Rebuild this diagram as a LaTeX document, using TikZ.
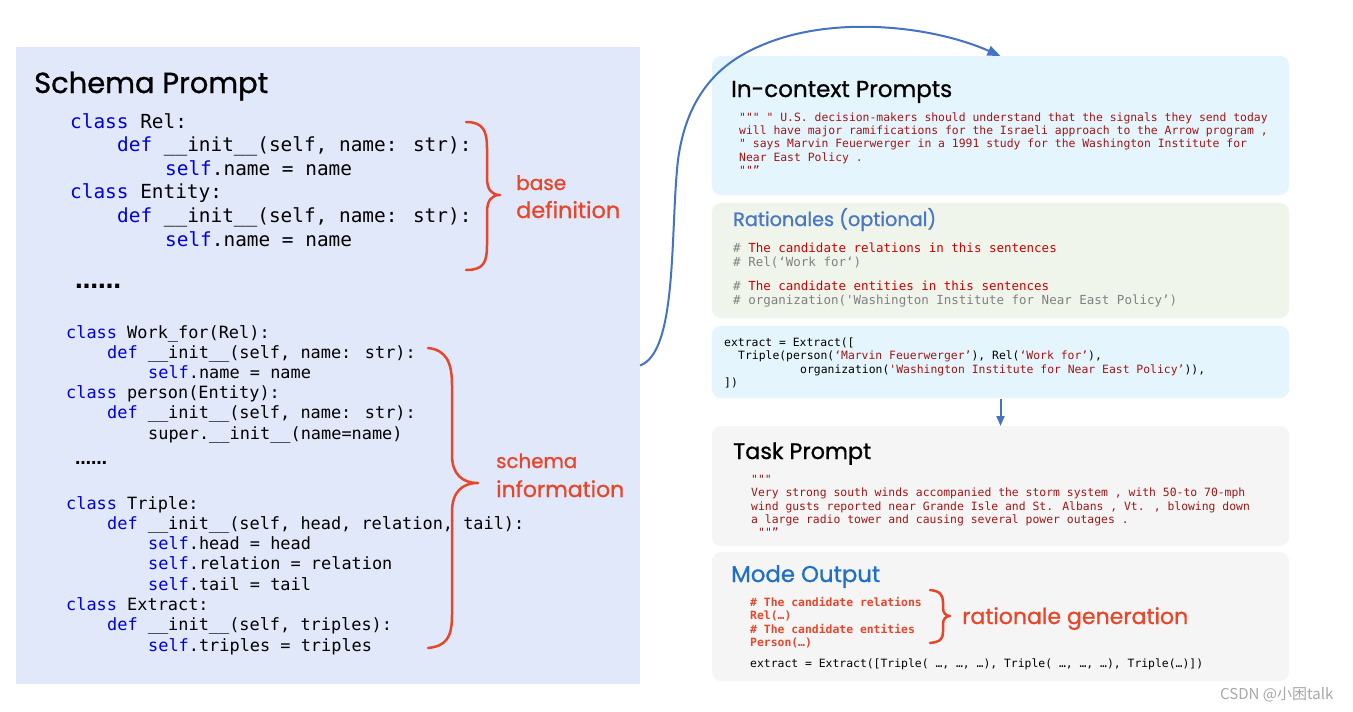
\documentclass[tikz,border=0pt]{standalone}
\usepackage{fontspec}
\usetikzlibrary{arrows.meta}
\newfontfamily\codefont[Ligatures=TeXOff]{DejaVu Sans Mono}
\newfontfamily\titlefont[FakeBold=0.9]{Poppins}
\newfontfamily\cjkfont{Noto Sans CJK SC}
\newfontfamily\dotfont{DejaVu Sans}
\definecolor{kwblue}{HTML}{0000DD}
\definecolor{labred}{HTML}{E8462A}
\definecolor{strred}{HTML}{A31515}
\definecolor{cmtred}{HTML}{CC0000}
\definecolor{cmtgray}{HTML}{808080}
\definecolor{arrblue}{HTML}{4472C4}
\definecolor{panelL}{HTML}{E0E8FA}
\definecolor{cyanbox}{HTML}{E4F5FD}
\definecolor{greenbox}{HTML}{F0F5EC}
\definecolor{graybox}{HTML}{F5F5F5}
\definecolor{ratblue}{HTML}{4A76C6}
\definecolor{modeblue}{HTML}{1E6FC5}
\definecolor{wmgray}{HTML}{A8A8A8}
\newcommand\kw[1]{\textcolor{kwblue}{#1}}
\newcommand\strq[1]{\textcolor{strred}{#1}}
\tikzset{
  panelbox/.style={inner sep=0, outer sep=0, anchor=north west, draw=none},
  rbox/.style={panelbox, rounded corners=9pt, minimum width=577pt},
  codeL/.style={inner sep=0, anchor=base west, font=\codefont\fontsize{19.4}{19.4}\selectfont},
  codeM/.style={inner sep=0, anchor=base west, font=\codefont\fontsize{16.9}{16.9}\selectfont},
  codeS/.style={inner sep=0, anchor=base west, font=\codefont\fontsize{11.4}{11.4}\selectfont},
  codeR/.style={inner sep=0, anchor=base west, font=\codefont\fontsize{12.5}{12.5}\selectfont},
  titletext/.style={inner sep=0, anchor=base west, font=\titlefont},
  bracestyle/.style={draw=labred, line width=2.5pt, line cap=round, line join=round},
  flow/.style={draw=arrblue, line width=2pt},
}
\begin{document}
\begin{tikzpicture}[x=1pt, y=-1pt]
\fill[white] (0,0) rectangle (1353,712);
\useasboundingbox (0,0) rectangle (1353,712);

% panels
\node[panelbox, fill=panelL, minimum width=624pt, minimum height=637pt] (schema) at (16,47) {};
\node[rbox, fill=cyanbox, minimum height=139pt] (incontext) at (712,56) {};
\node[rbox, fill=greenbox, minimum height=115pt] (rationale) at (712,203) {};
\node[rbox, fill=cyanbox, minimum height=72pt] (extractbox) at (712,326) {};
\node[rbox, fill=graybox, minimum height=120pt] (taskbox) at (712,426) {};
\node[rbox, fill=graybox, minimum height=129pt] (modebox) at (712,552) {};

% titles
\node[titletext] (tSchema) at (34,93) {\resizebox{234pt}{!}{Schema Prompt}};
\node[titletext] (tIn) at (731,97) {\resizebox{221pt}{!}{In-context Prompts}};
\node[titletext, text=ratblue] (tRat) at (733,226) {\resizebox{203pt}{!}{Rationales (optional)}};
\node[titletext] (tTask) at (733,459) {\resizebox{138pt}{!}{Task Prompt}};
\node[titletext, text=modeblue] (tMode) at (731,582) {\resizebox{149pt}{!}{Mode Output}};
\node[titletext, text=labred] (lBase) at (516,190) {\resizebox{50pt}{!}{base}};
\node[titletext, text=labred] (lDef) at (516,218) {\resizebox{104pt}{!}{definition}};
\node[titletext, text=labred] (lSch) at (496,468) {\resizebox{81pt}{!}{schema}};
\node[titletext, text=labred] (lInf) at (496,497) {\resizebox{128pt}{!}{information}};
\node[titletext, text=labred] (lRatG) at (962,624) {\resizebox{226pt}{!}{rationale generation}};

% upper code
\node[codeL] (u1) at (70,128) {\kw{class} Rel:};
\node[codeL] (u2) at (117,151.6) {\kw{def} \_\_init\_\_(self, name: str):};
\node[codeL] (u3) at (165,175.2) {\kw{self}.name = name};
\node[codeL] (u4) at (70,198.8) {\kw{class} Entity:};
\node[codeL] (u5) at (117,222.4) {\kw{def} \_\_init\_\_(self, name: str):};
\node[codeL] (u6) at (165,246) {\kw{self}.name = name};
\node[inner sep=0, anchor=base west, font=\dotfont\bfseries\fontsize{23}{23}\selectfont] (d1) at (75,288) {……};

% lower code
\node[codeM] (l1) at (66,338) {\kw{class} Work\_for(Rel):};
\node[codeM] (l2) at (107,358.2) {\kw{def} \_\_init\_\_(self, name: str):};
\node[codeM] (l3) at (148,378.4) {\kw{self}.name = name};
\node[codeM] (l4) at (66,398.6) {\kw{class} person(Entity):};
\node[codeM] (l5) at (107,418.8) {\kw{def} \_\_init\_\_(self, name: str):};
\node[codeM] (l6) at (148,439) {super.\_\_init\_\_(name=name)};
\node[inner sep=0, anchor=base west, font=\dotfont\bfseries\fontsize{16}{16}\selectfont] (d2) at (75,464) {……};
\node[codeM] (l7) at (66,509) {\kw{class} Triple:};
\node[codeM] (l8) at (107,529.3) {\kw{def} \_\_init\_\_(self, head, relation, tail):};
\node[codeM] (l9) at (148,549.6) {\kw{self}.head = head};
\node[codeM] (l10) at (148,569.9) {\kw{self}.relation = relation};
\node[codeM] (l11) at (148,590.2) {\kw{self}.tail = tail};
\node[codeM] (l12) at (66,610.5) {\kw{class} Extract:};
\node[codeM] (l13) at (107,630.8) {\kw{def} \_\_init\_\_(self, triples):};
\node[codeM] (l14) at (148,651.1) {\kw{self}.triples = triples};

% in-context
\begin{scope}[every node/.append style={text=strred}]
\node[codeS] (i1) at (739,121.5) {""" " U.S. decision-makers should understand that the signals they send today};
\node[codeS] (i2) at (739,134.7) {will have major ramifications for the Israeli approach to the Arrow program ,};
\node[codeS] (i3) at (739,147.9) {" says Marvin Feuerwerger in a 1991 study for the Washington Institute for};
\node[codeS] (i4) at (739,161.1) {Near East Policy .};
\node[codeS] (i5) at (739,174.3) {""”};
\end{scope}

% rationales
\node[codeR, text=cmtgray] (r1) at (733,252) {\# \textcolor{cmtred}{The candidate relations in this sentences}};
\node[codeR, text=cmtgray] (r2) at (733,266) {\# Rel(‘Work for‘)};
\node[codeR, text=cmtgray] (r3) at (733,290) {\# \textcolor{cmtred}{The candidate entities in this sentences}};
\node[codeR, text=cmtgray] (r4) at (733,304) {\# organization('Washington Institute for Near East Policy’)};

% extract
\node[codeS] (e1) at (724,346) {extract = Extract([};
\node[codeS] (e2) at (738,359) {Triple(person(\strq{‘Marvin Feuerwerger’}), Rel(\strq{‘Work for’}),};
\node[codeS] (e3) at (800,373) {organization(\strq{'Washington Institute for Near East Policy’})),};
\node[codeS] (e4) at (724,386) {])};

% task
\begin{scope}[every node/.append style={text=strred}]
\node[codeS] (k1) at (751,483.5) {"""};
\node[codeS] (k2) at (751,496.8) {Very strong south winds accompanied the storm system , with 50-to 70-mph};
\node[codeS] (k3) at (751,510.1) {wind gusts reported near Grande Isle and St. Albans , Vt. , blowing down};
\node[codeS] (k4) at (751,523.4) {a large radio tower and causing several power outages .};
\node[codeS] (k5) at (758,536.7) {""”};
\end{scope}

% mode output
\begin{scope}[every node/.append style={text=labred}]
\node[codeS, font=\codefont\bfseries\fontsize{11.4}{11.4}\selectfont] (m1) at (750,606.5) {\# The candidate relations};
\node[codeS, font=\codefont\bfseries\fontsize{11.4}{11.4}\selectfont] (m2) at (750,619) {Rel(…)};
\node[codeS, font=\codefont\bfseries\fontsize{11.4}{11.4}\selectfont] (m3) at (750,633.5) {\# The candidate entities};
\node[codeS, font=\codefont\bfseries\fontsize{11.4}{11.4}\selectfont] (m4) at (750,646) {Person(…)};
\end{scope}
\node[codeS] (m5) at (750,667.5) {extract = Extract([Triple( …, …, …), Triple( …, …, …), Triple(…)])};

% braces
\draw[bracestyle] (466,122) .. controls (484,122) and (487,132) .. (487,148) -- (487,178)
  .. controls (487,190) and (492,195) .. (500,195)
  .. controls (492,195) and (487,200) .. (487,212) -- (487,245)
  .. controls (487,262) and (484,270) .. (466,270);
\draw[bracestyle] (428,348) .. controls (446,350) and (452,362) .. (452,385) -- (452,455)
  .. controls (452,474) and (462,483) .. (478,483)
  .. controls (462,483) and (452,492) .. (452,512) -- (452,615)
  .. controls (452,638) and (446,646) .. (428,648);
\draw[bracestyle] (930,590) .. controls (940,591) and (943,595) .. (943,602) -- (943,608)
  .. controls (943,613) and (946,616) .. (950,616)
  .. controls (946,616) and (943,619) .. (943,624) -- (943,632)
  .. controls (943,639) and (940,642) .. (930,643);

% connectors
\draw[flow, -{Triangle[length=13pt,width=10pt]}] (schema.east)
  .. controls (678,352) and (670,230) .. (678,160)
  .. controls (686,100) and (715,65) .. (760,46)
  .. controls (830,15) and (930,25) .. (incontext.north);
\draw[flow, -{Triangle[length=10pt,width=8pt]}] ([yshift=-1pt]extractbox.south) -- (taskbox.north);

% watermark
\node[inner sep=0, anchor=base west, text=wmgray, font=\cjkfont\fontsize{15}{15}\selectfont] (wm) at (1220,699) {CSDN @小困talk};
\end{tikzpicture}
\end{document}
